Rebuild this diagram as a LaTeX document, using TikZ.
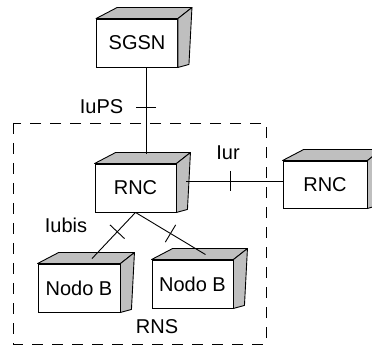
\documentclass[tikz,border=0pt]{standalone}
\usepackage{fontspec}
\setmainfont{Liberation Sans}
\usetikzlibrary{calc,decorations.markings}

\begin{document}
\begin{tikzpicture}[
    x=1pt, y=-1pt,
    line width=0.9pt,
    front/.style={draw, fill=white, minimum width=81pt, minimum height=48pt,
      inner sep=0pt, font=\fontsize{20}{24}\selectfont},
    side/.style={draw, fill=black!25, line join=round},
    lbl/.style={font=\fontsize{20}{24}\selectfont},
    iface/.style={postaction={decorate, decoration={markings,
      mark=at position #1 with {\draw (0,-10) -- (0,10);}}}},
    rnsbox/.style={dash pattern=on 11pt off 9pt}
  ]
  \clip (0,0) rectangle (372,347);

  % radio network subsystem
  \draw[rnsbox] (13,123) rectangle (266,344);

  % front faces of the boxes
  \node[front] (sgsn) at (137,43) {SGSN};
  \node[front] (rnc) at (135.5,188) {RNC};
  \node[front, minimum width=84pt, minimum height=47pt] (rncb) at (325,184.5) {RNC};
  \node[front, minimum width=82pt] (nba) at (79,288) {Nodo B};
  \node[front] (nbb) at (192.5,284) {Nodo B};

  % top and right faces
  \foreach \n in {sgsn,rnc,rncb,nba,nbb}{
    \path[side] (\n.north west) -- ++(21,-11) -- ($(\n.north east)+(14,-11)$)
      -- (\n.north east) -- cycle;
    \path[side] (\n.north east) -- ++(14,-11) -- ($(\n.south east)+(11,-3)$)
      -- (\n.south east) -- cycle;
  }

  % interfaces
  \coordinate (rtop) at ($(rnc.north)+(10.5,-10)$);
  \coordinate (rside) at ($(rnc.east)+(10,-7)$);
  \draw[iface=0.47] (rtop |- sgsn.south) -- (rtop);
  \draw[iface=0.46] (rside) -- (rside -| rncb.west);
  \draw[iface=0.42] (rnc.south) -- ($(nba.north)+(13,-5)$);
  \draw[iface=0.5] (rnc.south) -- ($(nbb.north)+(13,-5)$);

  \node[lbl] (lps) at (101.5,106.5) {IuPS};
  \node[lbl] (lur) at (228,153) {Iur};
  \node[lbl] (lub) at (66,225) {Iubis};
  \node[lbl] (lrns) at (157,327) {RNS};
\end{tikzpicture}
\end{document}
